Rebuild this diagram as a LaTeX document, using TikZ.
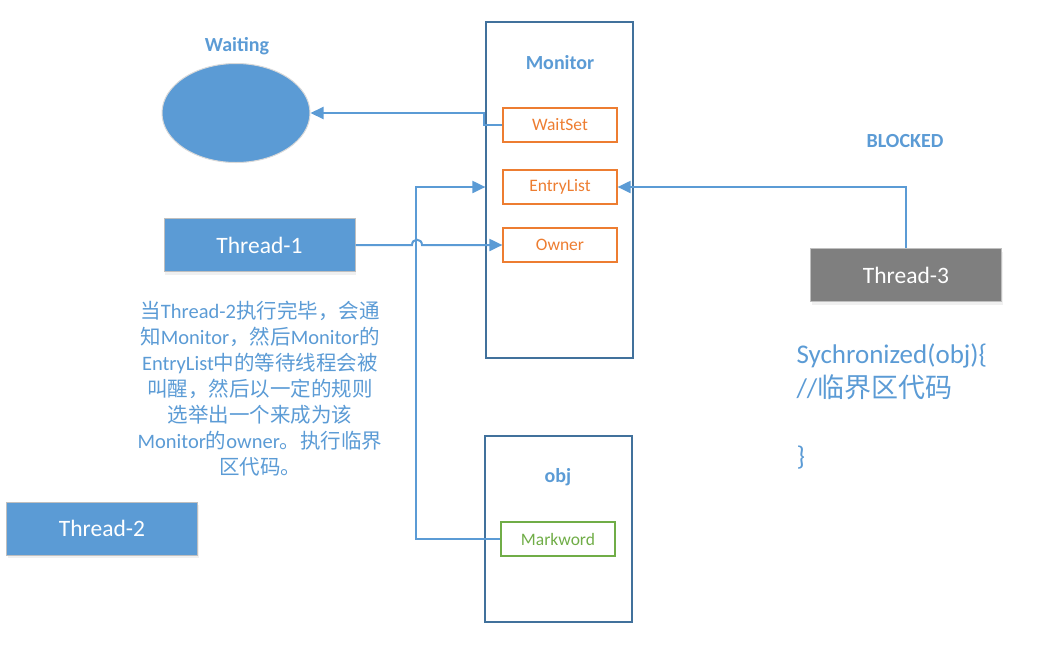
\documentclass[tikz,border=0pt]{standalone}
\usepackage{fontspec}
\setmainfont{Carlito}
\newfontfamily\cjk{Noto Sans CJK SC}
\newcommand\zh[1]{{\cjk #1}}
\usetikzlibrary{arrows.meta,shadows,shapes.geometric}

\definecolor{lblue}{HTML}{5B9BD5}
\definecolor{dblue}{HTML}{41719C}
\definecolor{orng}{HTML}{ED7D31}
\definecolor{grn}{HTML}{70AD47}
\definecolor{tgray}{HTML}{7F7F7F}

\tikzset{
  title/.style={text=lblue,font=\fontsize{20}{24}\selectfont\bfseries},
  thread/.style={draw=black!25,line width=1pt,fill=lblue,text=white,
    minimum width=191pt,minimum height=53pt,font=\fontsize{23.5}{28}\selectfont,
    drop shadow={opacity=0.12,shadow xshift=1pt,shadow yshift=-3pt}},
  holder/.style={draw=dblue,line width=1.2pt,minimum width=147pt},
  field/.style={draw=#1,text=#1,line width=1.2pt,minimum width=114pt,
    minimum height=34pt,font=\fontsize{17.5}{21}\selectfont},
  conn/.style={draw=lblue,line width=2pt,-{Triangle[length=13pt,width=12pt]}}
}

\begin{document}
\begin{tikzpicture}[x=1pt,y=-1pt]
\useasboundingbox (0,0) rectangle (1045,649);

% monitor and object
\node[holder,minimum height=336pt] (monitor) at (559.5,190) {};
\node[title] (monlabel) at (560,63) {Monitor};
\node[field=orng] (waitset) at (560,125) {WaitSet};
\node[field=orng] (entry) at (560,187) {EntryList};
\node[field=orng] (owner) at (560,245) {Owner};

\node[holder,minimum height=186pt] (obj) at (558.5,529) {};
\node[title] (objlabel) at (558,477) {obj};
\node[field=grn] (markword) at (558,539) {Markword};

% waiting set
\node[title] (waitlabel) at (237,46) {Waiting};
\node[ellipse,fill=lblue,draw=black!15,line width=1pt,
  minimum width=148pt,minimum height=99pt] (waiting) at (236,113) {};

% threads
\node[thread] (t1) at (259.5,245) {Thread-1};
\node[thread] (t2) at (102,528.5) {Thread-2};
\node[thread,fill=tgray] (t3) at (906,275) {Thread-3};
\node[title] (blocked) at (905,141) {BLOCKED};

% notes
\node[text=lblue,align=center,font=\fontsize{20.5}{26}\selectfont] (note) at (260,389) {
\zh{当}Thread-2\zh{执行完毕，会通}\\
\zh{知}Monitor\zh{，然后}Monitor\zh{的}\\
EntryList\zh{中的等待线程会被}\\
\zh{叫醒，然后以一定的规则}\\
\zh{选举出一个来成为该}\\
Monitor\zh{的}owner\zh{。执行临界}\\
\zh{区代码。}};

\node[text=lblue,align=left,anchor=west,font=\fontsize{27}{34}\selectfont] (code) at (793,406) {
Sychronized(obj)\{\\
//\zh{临界区代码}\\[34pt]
\}};

% connectors
\draw[conn] (waitset.west) -- ++(-18,0) |- (waiting.east);
\draw[conn] (t1.east) -- (412,245) .. controls (412,238) and (422,238) .. (422,245) -- (owner.west);
\draw[conn] (markword.west) -- ++(-84,0) |- (monitor.west |- entry.west);
\draw[conn] (t3.north) |- (entry.east);
\end{tikzpicture}
\end{document}
